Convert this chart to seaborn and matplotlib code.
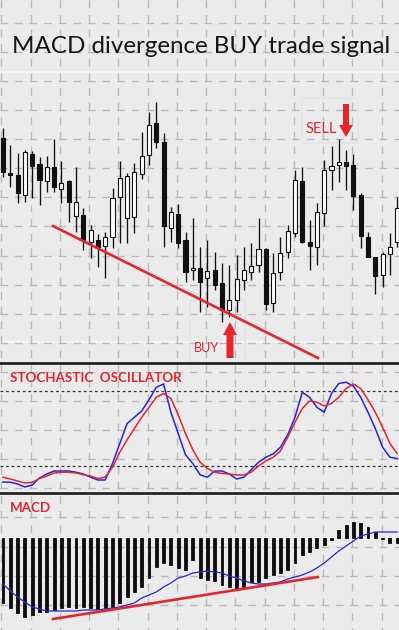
import matplotlib
matplotlib.use("Agg")
import matplotlib.pyplot as plt
import seaborn as sns
import numpy as np
from matplotlib.patches import FancyArrow, FancyBboxPatch

# ---------------- data ----------------
title_text = "MACD divergence BUY trade signal"
stoch_text = "STOCHASTIC  OSCILLATOR"
macd_text = "MACD"
buy_text = "BUY"
sell_text = "SELL"

candle_open = [262, 227, 225, 205, 246, 236, 219, 233, 211, 219, 184, 185, 158, 160, 154,
               163, 203, 182, 183, 226, 245, 277, 258, 172, 186, 160, 130, 132, 122, 130,
               117, 90, 100, 120, 128, 135, 151, 97, 128, 148, 167, 219, 158, 153, 187,
               230, 235, 238, 235, 205, 163, 143, 125, 146, 158]
candle_high = [272, 255, 247, 250, 249, 243, 244, 261, 239, 220, 233, 192, 175, 166, 168,
               212, 239, 227, 237, 268, 288, 298, 267, 193, 196, 168, 182, 153, 160, 148,
               137, 135, 145, 153, 157, 182, 152, 147, 163, 175, 230, 233, 180, 197, 240,
               254, 261, 250, 246, 207, 168, 143, 148, 167, 203]
candle_low = [223, 213, 197, 198, 202, 195, 208, 208, 197, 178, 168, 150, 142, 133, 122,
              152, 157, 157, 167, 221, 235, 252, 153, 158, 152, 118, 120, 88, 93, 110,
              78, 83, 88, 110, 120, 128, 90, 88, 120, 142, 163, 157, 130, 135, 174,
              210, 218, 210, 190, 152, 143, 106, 113, 125, 153]
candle_close = [228, 225, 207, 248, 234, 220, 233, 213, 217, 198, 198, 160, 170, 153, 163,
                202, 222, 224, 228, 244, 275, 258, 174, 188, 157, 128, 132, 118, 129, 115,
                90, 100, 121, 130, 134, 151, 96, 127, 147, 169, 220, 158, 154, 188, 230,
                234, 238, 234, 204, 164, 143, 124, 146, 153, 192]

stoch_k = [7.2, 7, 5.6, 3.2, 4.8, 10.4, 13.6, 16, 16, 16, 15, 13.6, 11, 8.8, 8.8, 22, 38, 54,
           59, 64, 73, 83, 85.6, 63, 46, 29, 22, 13, 11, 16, 16, 13.6, 9.6, 11, 17, 23, 27,
           29.6, 35, 45, 59, 79, 75, 67, 63, 78, 86, 87, 84, 75, 63, 50, 35, 27, 26]
stoch_d = [11, 9.6, 8, 6.4, 7, 10, 12, 14.4, 15, 15, 14.4, 13, 12, 10, 11, 19, 31, 41, 50,
           59, 67, 75, 78, 74, 61, 46, 33, 23, 18, 15, 14, 13.6, 12.8, 12.8, 15, 20, 24, 27,
           32, 43, 55, 66, 72, 71, 68, 70, 75, 82, 85.6, 82, 73, 63, 51, 38, 30]
stoch_levels = [20, 80]

macd_hist = [-0.065, -0.070, -0.075, -0.079, -0.077, -0.074, -0.074, -0.072, -0.070, -0.069,
             -0.070, -0.069, -0.070, -0.071, -0.070, -0.069, -0.065, -0.059, -0.054, -0.049,
             -0.040, -0.029, -0.025, -0.027, -0.030, -0.032, -0.022, -0.040, -0.042, -0.043,
             -0.047, -0.049, -0.051, -0.049, -0.044, -0.044, -0.040, -0.037, -0.035, -0.032,
             -0.025, -0.017, -0.014, -0.010, -0.007, -0.002, 0.008, 0.013, 0.016, 0.015,
             0.011, 0.006, -0.001, -0.005, -0.005]
macd_signal = [-0.046, -0.053, -0.059, -0.064, -0.069, -0.071, -0.073, -0.073, -0.073, -0.073,
               -0.073, -0.072, -0.072, -0.072, -0.071, -0.070, -0.069, -0.067, -0.065, -0.060,
               -0.057, -0.054, -0.049, -0.045, -0.040, -0.038, -0.035, -0.034, -0.033, -0.034,
               -0.035, -0.038, -0.040, -0.043, -0.045, -0.046, -0.046, -0.045, -0.044, -0.041,
               -0.039, -0.037, -0.034, -0.030, -0.025, -0.019, -0.013, -0.008, -0.003, 0.002,
               0.004, 0.006, 0.006, 0.006, 0.006]

price_trend_x = [6.85, 43.15]
price_trend_y = [174, 42]
macd_trend_x = [6.85, 43.15]
macd_trend_y = [-0.081, -0.039]

# ---------------- style ----------------
BG = "#ebebeb"
GRID = "#b9b9b9"
RED = "#e6262b"
BLUE = "#2424e6"
W, H = 399, 630

plt.rcParams["lines.scale_dashes"] = False
plt.rcParams["font.family"] = ["Lato", "DejaVu Sans"]

idx = np.arange(len(candle_open))
XL = (-3 / 7.3, 396 / 7.3)

fig = plt.figure(figsize=(W / 100, H / 100), dpi=100)
fig.patch.set_facecolor(BG)

# background / annotation layer in pixel coordinates
bg = fig.add_axes([0, 0, 1, 1])
bg.set_xlim(0, W)
bg.set_ylim(H, 0)
bg.axis("off")

for k in range(14):
    xk = 1.3 + 29.25 * k
    bg.plot([xk, xk], [0, H], color=GRID, lw=0.95, dashes=(5.5, 5), zorder=1)
for k in range(21):
    yk = 22.7 + 29.1 * k
    bg.plot([0, W], [yk, yk], color=GRID, lw=0.95, dashes=(5.5, 5), zorder=1)

for yk in (72, 342):
    bg.plot([0, W], [yk, yk], color="white", alpha=0.5, lw=1.3, zorder=0.5)

bg.add_patch(FancyBboxPatch((302, 98), 56, 45, boxstyle="round,pad=0,rounding_size=4",
                            fc="none", ec="#e3e3ec", lw=1.2, zorder=2))
bg.add_patch(FancyBboxPatch((190, 300), 55, 62, boxstyle="round,pad=0,rounding_size=4",
                            fc="none", ec="#e3e3ec", lw=1.2, zorder=2))

for yk in (362.5, 492.5):
    bg.plot([0, W], [yk, yk], color="#1c1c1c", lw=1.9, zorder=5)


def data_axes(top_px, bot_px):
    ax = fig.add_axes([0, 1 - bot_px / H, 1, (bot_px - top_px) / H])
    ax.axis("off")
    return ax


# ---------------- price panel ----------------
ax1 = data_axes(0, 362)
o = np.array(candle_open, float)
c = np.array(candle_close, float)
hi = np.array(candle_high, float)
lo = np.array(candle_low, float)
ax1.vlines(idx, lo, hi, color="#111111", lw=0.95, zorder=2)
body_col = ["white" if cc >= oo else "#111111" for oo, cc in zip(o, c)]
ax1.bar(idx, np.maximum(np.abs(c - o), 0.8), bottom=np.minimum(o, c), width=0.55,
        color=body_col, edgecolor="#111111", linewidth=0.8, zorder=3)
sns.lineplot(x=price_trend_x, y=price_trend_y, color=RED, lw=1.9, ax=ax1, zorder=4)
ax1.set_xlim(*XL)
ax1.set_ylim(38, 400)
ax1.axis("off")

# ---------------- stochastic panel ----------------
ax2 = data_axes(362, 492)
for lv in stoch_levels:
    ax2.axhline(lv, color="#333333", lw=0.9, dashes=(2, 2), zorder=1)
sns.lineplot(x=idx, y=stoch_k, color=BLUE, lw=1.1, ax=ax2, zorder=3)
sns.lineplot(x=idx, y=stoch_d, color=RED, lw=1.1, ax=ax2, zorder=4)
ax2.set_xlim(*XL)
ax2.set_ylim(-0.8, 103.2)
ax2.axis("off")

# ---------------- MACD panel ----------------
ax3 = data_axes(492, 630)
sns.barplot(x=idx, y=macd_hist, native_scale=True, width=0.4, color="#0d0d0d",
            saturation=1, errorbar=None, edgecolor="#0d0d0d", linewidth=0.6, ax=ax3, zorder=2)
sns.lineplot(x=idx, y=macd_signal, color=BLUE, lw=0.9, ax=ax3, zorder=3)
sns.lineplot(x=macd_trend_x, y=macd_trend_y, color=RED, lw=1.9, ax=ax3, zorder=4)
ax3.set_xlim(*XL)
ax3.set_ylim(-0.092, 0.046)
ax3.axis("off")

# ---------------- texts & arrows ----------------
t_title = bg.text(201, 53, title_text, ha="center", va="baseline", fontsize=17,
                  color="#151515", zorder=6)
t_sell = bg.text(321, 133.3, sell_text, ha="center", va="baseline", fontsize=10,
                 color=RED, zorder=6)
t_buy = bg.text(206.5, 352, buy_text, ha="center", va="baseline", fontsize=10,
                color=RED, zorder=6)
t_st = bg.text(10, 382, stoch_text, ha="left", va="baseline", fontsize=10,
               fontweight="bold", color=RED, zorder=6)
t_md = bg.text(10, 512, macd_text, ha="left", va="baseline", fontsize=10,
               fontweight="bold", color=RED, zorder=6)

fig.canvas.draw()
rend = fig.canvas.get_renderer()
for t, tw in ((t_title, 378), (t_sell, 31), (t_buy, 25), (t_st, 170), (t_md, 41)):
    bb = t.get_window_extent(rend)
    t.set_fontsize(t.get_fontsize() * tw / bb.width)

bg.add_patch(FancyArrow(346, 104, 0, 33, width=6, head_width=14, head_length=12,
                        length_includes_head=True, color=RED, lw=0, zorder=6))
bg.add_patch(FancyArrow(230, 358, 0, -36, width=7, head_width=14, head_length=13,
                        length_includes_head=True, color=RED, lw=0, zorder=6))

fig.savefig("out.png", dpi=100, facecolor=BG)
